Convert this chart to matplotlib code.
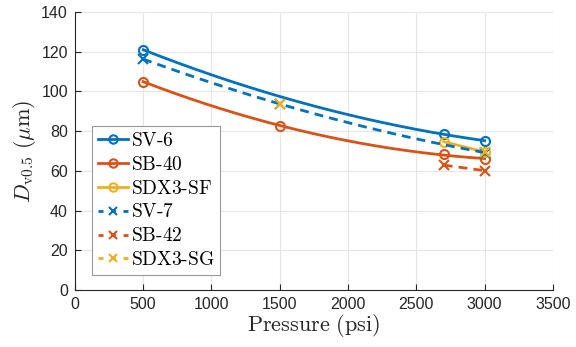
import numpy as np
import matplotlib
matplotlib.use("Agg")
import matplotlib.pyplot as plt
from matplotlib.lines import Line2D

plt.rcParams['mathtext.fontset'] = 'cm'
plt.rcParams['font.family'] = ['Liberation Sans', 'DejaVu Sans']

# data (pressure in psi, Dv0.5 in um)
p_sv6 = [500, 2700, 3000]
d_sv6 = [121.0, 78.4, 75.2]
p_sb40 = [500, 1500, 2700, 3000]
d_sb40 = [105.0, 82.6, 68.5, 65.8]
p_sf = [2700, 3000]
d_sf = [74.7, 69.5]
p_sv7 = [500, 1500, 3000]
d_sv7 = [116.3, 93.7, 69.2]
p_sb42 = [2700, 3000]
d_sb42 = [62.9, 60.1]
p_sg = [1500, 3000]
d_sg = [93.5, 69.5]

blue = '#0072BD'
red = '#D95319'
yellow = '#EDB120'

series = [
    ("SV-6", p_sv6, d_sv6, blue, '-', 'o'),
    ("SB-40", p_sb40, d_sb40, red, '-', 'o'),
    ("SDX3-SF", p_sf, d_sf, yellow, '-', 'o'),
    ("SV-7", p_sv7, d_sv7, blue, '--', 'x'),
    ("SB-42", p_sb42, d_sb42, red, '--', 'x'),
    ("SDX3-SG", p_sg, d_sg, yellow, '--', 'x'),
]

fig = plt.figure(figsize=(5.76, 3.47), dpi=100)
ax = fig.add_axes([0.130, 0.1643, 0.830, 0.8011])

handles = []
for name, p, d, c, ls, mk in series:
    p = np.array(p, float)
    d = np.array(d, float)
    # smooth trend through the points (quadratic, or straight for two points)
    deg = min(2, len(p) - 1)
    coef = np.polyfit(p, d, deg)
    xs = np.linspace(p.min(), p.max(), 200)
    if name != "SDX3-SG":
        ln, = ax.plot(xs, np.polyval(coef, xs), color=c, ls=ls, lw=2)
        if ls == '--':
            ln.set_dashes((3.2, 2.2))
    ax.plot(p, d, ls='none', marker=mk, color=c, mfc='none', ms=6.5, mew=1.5)
    h = Line2D([], [], color=c, ls=ls, lw=2, marker=mk, mfc='none', ms=6, mew=1.5)
    if ls == '--':
        h.set_dashes((1.8, 2.7))
    handles.append((h, name))

ax.set_xlim(0, 3500)
ax.set_ylim(0, 140)
ax.set_xticks(np.arange(0, 3501, 500))
ax.set_yticks(np.arange(0, 141, 20))
ax.grid(True, color='0.9', lw=0.8)
ax.set_axisbelow(True)
for s in ['top', 'right']:
    ax.spines[s].set_visible(False)
for s in ['left', 'bottom']:
    ax.spines[s].set_color('0.15')
    ax.spines[s].set_linewidth(0.8)
ax.tick_params(direction='in', colors='0.15', labelsize=11.5, length=4, width=0.8, pad=5)

ax.set_xlabel(r'$\mathrm{Pressure\ (psi)}$', fontsize=16, color='0.15', labelpad=0)
ax.set_ylabel(r'$D_{\mathrm{v0.5}}\ (\mu\mathrm{m})$', fontsize=16, color='0.15', labelpad=2)

leg = ax.legend([h for h, _ in handles], [r'$\mathrm{%s}$' % n.replace('-', '\\text{-}') for _, n in handles],
                loc='lower left', bbox_to_anchor=(0.036, 0.054), borderaxespad=0,
                fontsize=14, handlelength=1.55, handletextpad=0.15, labelspacing=0.3,
                borderpad=0.3, fancybox=False, framealpha=1, edgecolor='0.6')
leg.get_frame().set_linewidth(0.8)

fig.savefig('out.png', dpi=100)
